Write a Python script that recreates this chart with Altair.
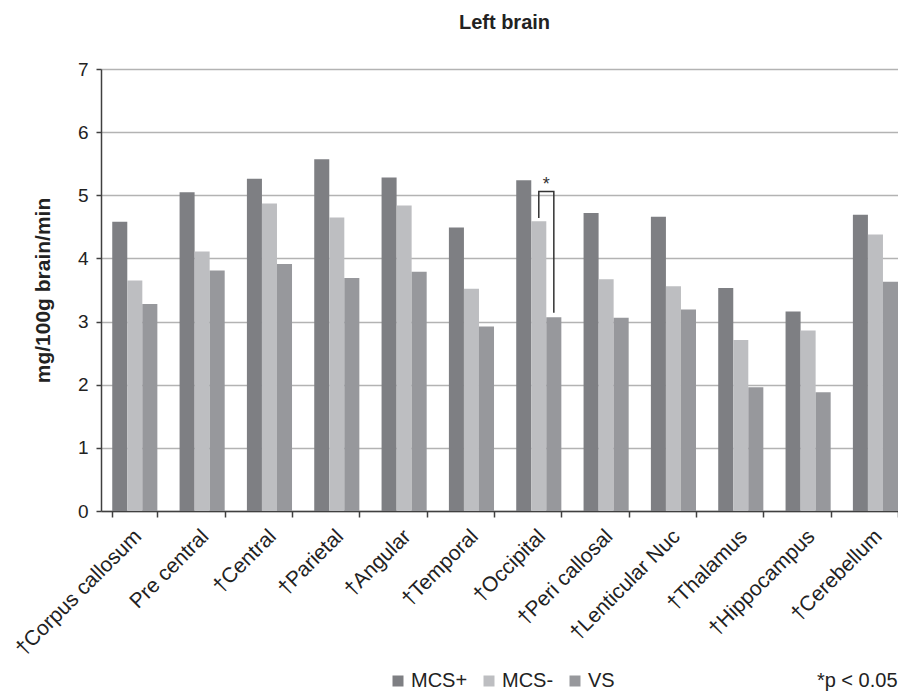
import altair as alt
import pandas as pd

regions = ["†Corpus callosum", "Pre central", "†Central", "†Parietal", "†Angular",
           "†Temporal", "†Occipital", "†Peri callosal", "†Lenticular Nuc",
           "†Thalamus", "†Hippocampus", "†Cerebellum"]
groups = ["MCS+", "MCS-", "VS"]
mcs_plus = [4.58, 5.05, 5.26, 5.57, 5.28, 4.49, 5.24, 4.72, 4.66, 3.53, 3.16, 4.69]
mcs_minus = [3.65, 4.11, 4.87, 4.65, 4.84, 3.52, 4.59, 3.67, 3.56, 2.71, 2.86, 4.38]
vs = [3.28, 3.81, 3.91, 3.69, 3.79, 2.92, 3.07, 3.06, 3.19, 1.96, 1.88, 3.63]
colors = ["#7e7f83", "#bdbec1", "#97989c"]

bracket_region = "†Occipital"
bracket_groups = ["MCS-", "MCS-", "VS", "VS"]
bracket_values = [4.64, 5.06, 5.06, 3.14]
star_value = 5.08
note = "*p < 0.05"
y_ticks = [0, 1, 2, 3, 4, 5, 6, 7]

rows = []
for g, vals in zip(groups, [mcs_plus, mcs_minus, vs]):
    for r, v in zip(regions, vals):
        rows.append({"region": r, "group": g, "value": v})
df = pd.DataFrame(rows)

bdf = pd.DataFrame({"region": [bracket_region] * 4, "group": bracket_groups,
                    "value": bracket_values, "i": list(range(4))})
sdf = pd.DataFrame({"region": [bracket_region], "value": [star_value], "t": ["*"]})

FONT = "Liberation Sans"
W, H = 797, 442

x_scale = alt.Scale(domain=regions, paddingInner=0.33, paddingOuter=0.0835, align=1)
xo_scale = alt.Scale(domain=groups, paddingInner=0, paddingOuter=0)
y_scale = alt.Scale(domain=[0, 7], nice=False)

x_axis = alt.Axis(
    labelAngle=-45, labelAlign="right", labelBaseline="middle",
    labelFontSize=21, labelColor="#222222", labelFont=FONT,
    labelPadding=16, labelOffset=3,
    tickBand="extent", tickSize=6, tickWidth=1.5, tickColor="#404040",
    domainColor="#404040", domainWidth=1.5, grid=False,
    title=note, titleFont=FONT, titleFontSize=20, titleFontWeight="normal",
    titleColor="#222222", titleAnchor="end", titleAlign="right",
    titleBaseline="middle", titleX=W - 1, titleY=169,
)
y_axis = alt.Axis(
    values=y_ticks, format="d", labelFontSize=19, labelColor="#222222", labelFont=FONT,
    labelPadding=8, tickSize=5, tickWidth=1.5, tickColor="#404040",
    domainColor="#404040", domainWidth=1.5,
    grid=True, gridColor="#b3b3b3", gridWidth=1.5,
    title="mg/100g brain/min", titleFont=FONT, titleFontSize=21,
    titleFontWeight="bold", titleColor="#222222", titlePadding=24,
)

bars = alt.Chart(df).mark_bar().encode(
    x=alt.X("region:N", scale=x_scale, sort=regions, axis=x_axis),
    xOffset=alt.XOffset("group:N", scale=xo_scale, sort=groups),
    y=alt.Y("value:Q", scale=y_scale, axis=y_axis),
    color=alt.Color("group:N", scale=alt.Scale(domain=groups, range=colors),
                    sort=groups,
                    legend=alt.Legend(
                        orient="none", legendX=287, legendY=602, direction="horizontal",
                        title=None, symbolType="square", symbolSize=121,
                        symbolStrokeWidth=0, labelFontSize=20, labelFont=FONT,
                        labelColor="#222222", labelOffset=3, columnPadding=11)),
)

bracket = alt.Chart(bdf).mark_line(color="#333333", strokeWidth=1.5).encode(
    x=alt.X("region:N", scale=x_scale, sort=regions),
    xOffset=alt.XOffset("group:N", scale=xo_scale, sort=groups),
    y=alt.Y("value:Q", scale=y_scale),
    order="i:O",
)

star = alt.Chart(sdf).mark_text(fontSize=18, font=FONT, color="#333333", dx=7.5,
                                baseline="alphabetic").encode(
    x=alt.X("region:N", scale=x_scale, sort=regions),
    y=alt.Y("value:Q", scale=y_scale),
    text="t:N",
)

chart = alt.layer(bars, bracket, star).properties(
    width=W, height=H,
    title=alt.TitleParams("Left brain", font=FONT, fontSize=20, fontWeight="bold",
                          color="#222222", offset=27, dx=5),
    autosize=alt.AutoSizeParams(type="none"),
    padding={"left": 93, "top": 61, "right": 0, "bottom": 180},
).configure_view(stroke=None)

chart.save("out.html", embed_options={"renderer": "svg", "actions": False})
